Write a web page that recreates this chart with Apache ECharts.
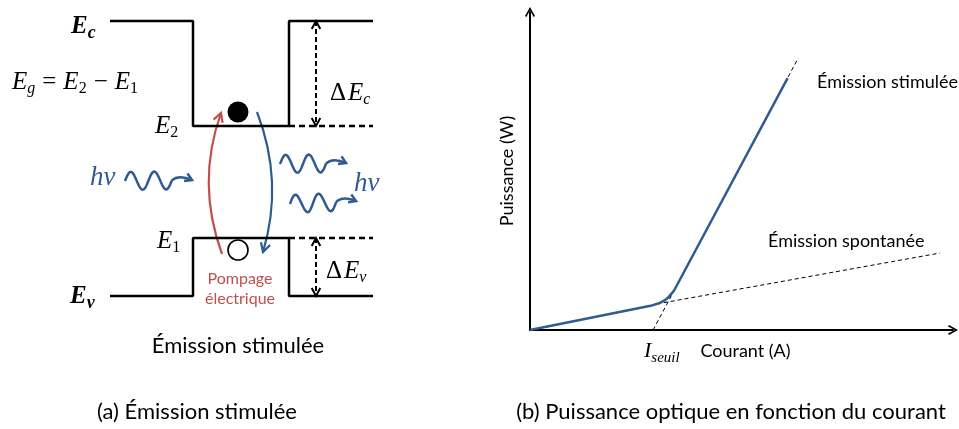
<!DOCTYPE html>
<html>
<head>
<meta charset="utf-8">
<script src="https://cdn.jsdelivr.net/npm/echarts@6/dist/echarts.min.js"></script>
<style>
html, body { margin: 0; padding: 0; background: #fff; }
#chart { width: 959px; height: 429px; }
</style>
</head>
<body>
<div id="chart"></div>
<script>
// (a) band diagram, diagram units (x to the right, y downwards)
const conductionBand = [[110, 21], [193, 21], [193, 126], [289, 126], [289, 21], [373, 21]];
const valenceBand = [[110, 296], [193, 296], [193, 238], [289, 238], [289, 296], [373, 296]];
const levelE2Ext = [[289, 126], [373, 126]];
const levelE1Ext = [[289, 238], [373, 238]];
const offsetArrows = [[316, 21, 316, 126], [316, 238, 316, 296]];
const electron = [[238, 112]];
const hole = [[238, 250]];
const pumpArc = [[222, 254, 196, 183, 221, 113]];   // start, control, end
const emitArc = [[257, 112, 284, 182, 263, 252]];
const photonIn = [[125, 181, 192, 180]];
const photonsOut = [[280, 164, 346, 163], [290, 204, 356, 201]];

// (b) optical power vs current (arbitrary units)
const laserCurve = [[0, 0], [28.5, 7.6], [30.5, 8.4], [31.8, 9.3], [32.8, 10.4], [33.5, 11.5], [34.1, 12.5], [60.9, 79.2]];
const stimulatedFit = [[29.1, 0], [63.4, 85.5]];
const spontaneousFit = [[30.0, 8.2], [96.9, 24.2]];

const BLUE = '#2f5b91';
const RED = '#c0504d';
const sans = 'Lato';
const serif = 'Liberation Serif';

const chart = echarts.init(document.getElementById('chart'));

function chevron(tip, ang, len, spread) {
  return [
    [tip[0] - len * Math.cos(ang - spread), tip[1] - len * Math.sin(ang - spread)],
    tip,
    [tip[0] - len * Math.cos(ang + spread), tip[1] - len * Math.sin(ang + spread)]
  ];
}

function arcItem(params, api) {
  const p0 = api.coord([api.value(0), api.value(1)]);
  const c = api.coord([api.value(2), api.value(3)]);
  const p1 = api.coord([api.value(4), api.value(5)]);
  const color = api.visual('color');
  const ang = Math.atan2(p1[1] - c[1], p1[0] - c[0]);
  return {
    type: 'group',
    children: [
      { type: 'bezierCurve', shape: { x1: p0[0], y1: p0[1], cpx1: c[0], cpy1: c[1], x2: p1[0], y2: p1[1] },
        style: { fill: 'none', stroke: color, lineWidth: 2.2 } },
      { type: 'polyline', shape: { points: chevron(p1, ang, 10, 0.5) },
        style: { fill: 'none', stroke: color, lineWidth: 2.2 } }
    ]
  };
}

function waveItem(params, api) {
  const s = api.coord([api.value(0), api.value(1)]);
  const e = api.coord([api.value(2), api.value(3)]);
  const dx = e[0] - s[0], dy = e[1] - s[1];
  const len = Math.hypot(dx, dy), ux = dx / len, uy = dy / len;
  const nx = uy, ny = -ux; // "up" normal
  const wl = len * 0.7, amp = 9;
  const pts = [];
  for (let i = 0; i <= 80; i++) {
    const t = i / 80 * wl;
    const off = amp * Math.sin(t / wl * 4 * Math.PI);
    pts.push([s[0] + ux * t + nx * off, s[1] + uy * t + ny * off]);
  }
  const w = pts[pts.length - 1];
  const cp = [w[0] + ux * 7 + nx * 6, w[1] + uy * 7 + ny * 6];
  const ang = Math.atan2(e[1] - cp[1], e[0] - cp[0]);
  const color = api.visual('color');
  const st = { fill: 'none', stroke: color, lineWidth: 2.5 };
  return {
    type: 'group',
    children: [
      { type: 'polyline', shape: { points: pts }, style: st },
      { type: 'bezierCurve', shape: { x1: w[0], y1: w[1], cpx1: cp[0], cpy1: cp[1], x2: e[0], y2: e[1] }, style: st },
      { type: 'polyline', shape: { points: chevron(e, ang, 8, 0.55) }, style: st }
    ]
  };
}

function dimItem(params, api) {
  const a = api.coord([api.value(0), api.value(1)]);
  const b = api.coord([api.value(2), api.value(3)]);
  const ang = Math.atan2(b[1] - a[1], b[0] - a[0]);
  const st = { fill: 'none', stroke: '#000', lineWidth: 2 };
  return {
    type: 'group',
    children: [
      { type: 'line', shape: { x1: a[0], y1: a[1], x2: b[0], y2: b[1] },
        style: { stroke: '#000', lineWidth: 2, lineDash: [5, 3] } },
      { type: 'polyline', shape: { points: chevron(a, ang + Math.PI, 9, 0.5) }, style: st },
      { type: 'polyline', shape: { points: chevron(b, ang, 9, 0.5) }, style: st }
    ]
  };
}

const band = (data, dashed) => ({
  type: 'line', xAxisIndex: 0, yAxisIndex: 0, data: data, symbol: 'none', silent: true,
  lineStyle: { color: '#000', width: 2.5, type: dashed ? [6, 4] : 'solid' }
});

const mathMain = { fontFamily: serif, fontStyle: 'italic', fontSize: 25, lineHeight: 30, fill: '#000' };
const mathSub = { fontFamily: serif, fontStyle: 'italic', fontSize: 16, lineHeight: 10, verticalAlign: 'bottom', fill: '#000' };
const mathUp = { fontFamily: serif, fontSize: 25, lineHeight: 30, fill: '#000' };
const digitSub = { fontFamily: serif, fontSize: 16, lineHeight: 10, verticalAlign: 'bottom', fill: '#000' };

function mathText(x, y, text, extraRich) {
  return {
    type: 'text', x: x, y: y, silent: true,
    style: {
      text: text, verticalAlign: 'middle', align: 'left',
      rich: Object.assign({
        m: mathMain, s: mathSub, d: digitSub,
        u: Object.assign({}, mathUp, { padding: [0, 7, 0, 7] }),
        D: Object.assign({}, mathUp, { padding: [0, 2, 0, 0] }),
        B: Object.assign({}, mathMain, { fontWeight: 'bold', fontSize: 25 }),
        bs: Object.assign({}, mathSub, { fontWeight: 'bold', fontSize: 18 })
      }, extraRich || {})
    }
  };
}

function plainText(x, y, text, size, color, align) {
  return {
    type: 'text', x: x, y: y, silent: true,
    style: { text: text, fontFamily: sans, fontSize: size, fill: color || '#000',
      align: align || 'left', verticalAlign: 'middle' }
  };
}

const arrowPath = 'path://M5,0 L10,9 L8.6,10 L5,3.2 L1.4,10 L0,9 Z';

const option = {
  animation: false,
  grid: [
    { left: 0, top: 0, width: 380, height: 340 },
    { left: 530, top: 12, width: 423, height: 318 }
  ],
  xAxis: [
    { type: 'value', gridIndex: 0, min: 0, max: 380, show: false },
    {
      type: 'value', gridIndex: 1, min: 0, max: 100,
      axisLine: { show: true, onZero: false, symbol: ['none', arrowPath],
        symbolSize: [10, 10], lineStyle: { color: '#000', width: 2 } },
      axisTick: { show: false }, axisLabel: { show: false }, splitLine: { show: false },
      name: 'Courant (A)', nameLocation: 'middle', nameGap: 12,
      nameTextStyle: { fontFamily: sans, fontSize: 18, color: '#000', padding: [0, 0, 0, 8] }
    }
  ],
  yAxis: [
    { type: 'value', gridIndex: 0, min: 0, max: 340, inverse: true, show: false },
    {
      type: 'value', gridIndex: 1, min: 0, max: 100,
      axisLine: { show: true, onZero: false, symbol: ['none', arrowPath],
        symbolSize: [10, 10], lineStyle: { color: '#000', width: 2 } },
      axisTick: { show: false }, axisLabel: { show: false }, splitLine: { show: false },
      name: 'Puissance (W)', nameLocation: 'middle', nameGap: 14,
      nameTextStyle: { fontFamily: sans, fontSize: 18, color: '#000' }
    }
  ],
  series: [
    band(conductionBand), band(valenceBand), band(levelE2Ext, true), band(levelE1Ext, true),
    { type: 'custom', xAxisIndex: 0, yAxisIndex: 0, data: offsetArrows, renderItem: dimItem, silent: true },
    { type: 'custom', xAxisIndex: 0, yAxisIndex: 0, data: pumpArc, renderItem: arcItem, itemStyle: { color: RED }, silent: true },
    { type: 'custom', xAxisIndex: 0, yAxisIndex: 0, data: emitArc, renderItem: arcItem, itemStyle: { color: BLUE }, silent: true },
    { type: 'custom', xAxisIndex: 0, yAxisIndex: 0, data: photonIn, renderItem: waveItem, itemStyle: { color: BLUE }, silent: true },
    { type: 'custom', xAxisIndex: 0, yAxisIndex: 0, data: photonsOut, renderItem: waveItem, itemStyle: { color: BLUE }, silent: true },
    { type: 'scatter', xAxisIndex: 0, yAxisIndex: 0, data: electron, symbolSize: 21,
      itemStyle: { color: '#000', opacity: 1 }, silent: true, z: 5 },
    { type: 'scatter', xAxisIndex: 0, yAxisIndex: 0, data: hole, symbolSize: 20,
      itemStyle: { color: '#fff', borderColor: '#000', borderWidth: 1.6, opacity: 1 }, silent: true, z: 5 },
    {
      type: 'line', xAxisIndex: 1, yAxisIndex: 1, data: stimulatedFit, symbol: 'none', silent: true,
      lineStyle: { color: '#000', width: 1, type: [4, 3] }
    },
    {
      type: 'line', xAxisIndex: 1, yAxisIndex: 1, data: spontaneousFit, symbol: 'none', silent: true,
      lineStyle: { color: '#000', width: 1, type: [4, 3] }
    },
    {
      type: 'line', xAxisIndex: 1, yAxisIndex: 1, data: laserCurve, symbol: 'none', silent: true, z: 4,
      lineStyle: { color: BLUE, width: 2.5, join: 'round' }
    }
  ],
  graphic: [
    mathText(71, 27, '{B|E}{bs|c}'),
    mathText(12, 82, '{m|E}{s|g}{u|=}{m|E}{d|2}{u|−}{m|E}{d|1}'),
    mathText(155, 126, '{m|E}{d|2}'),
    mathText(330, 93, '{D|Δ}{m|E}{s|c}'),
    mathText(157, 241, '{m|E}{d|1}'),
    mathText(326, 271, '{D|Δ}{m|E}{s|v}'),
    mathText(70, 297, '{B|E}{bs|v}'),
    mathText(90, 178, '{h|hν}', { h: Object.assign({}, mathMain, { fill: BLUE, fontSize: 27 }) }),
    mathText(354, 184, '{h|hν}', { h: Object.assign({}, mathMain, { fill: BLUE, fontSize: 27 }) }),
    plainText(240, 279, 'Pompage', 16, RED, 'center'),
    plainText(240, 299, 'électrique', 16, RED, 'center'),
    plainText(238, 346, 'Émission stimulée', 22, '#000', 'center'),
    plainText(817, 82, 'Émission stimulée', 18),
    plainText(768, 241, 'Émission spontanée', 18),
    mathText(644, 351, '{m|I}{s|seuil}', {
      m: Object.assign({}, mathMain, { fontSize: 22 }),
      s: Object.assign({}, mathSub, { fontSize: 15 })
    }),
    plainText(197, 412, '(a) Émission stimulée', 22, '#000', 'center'),
    plainText(731, 412, '(b) Puissance optique en fonction du courant', 22, '#000', 'center')
  ]
};

chart.setOption(option);
window.addEventListener('resize', function () {
  chart.resize();
});
</script>
</body>
</html>
